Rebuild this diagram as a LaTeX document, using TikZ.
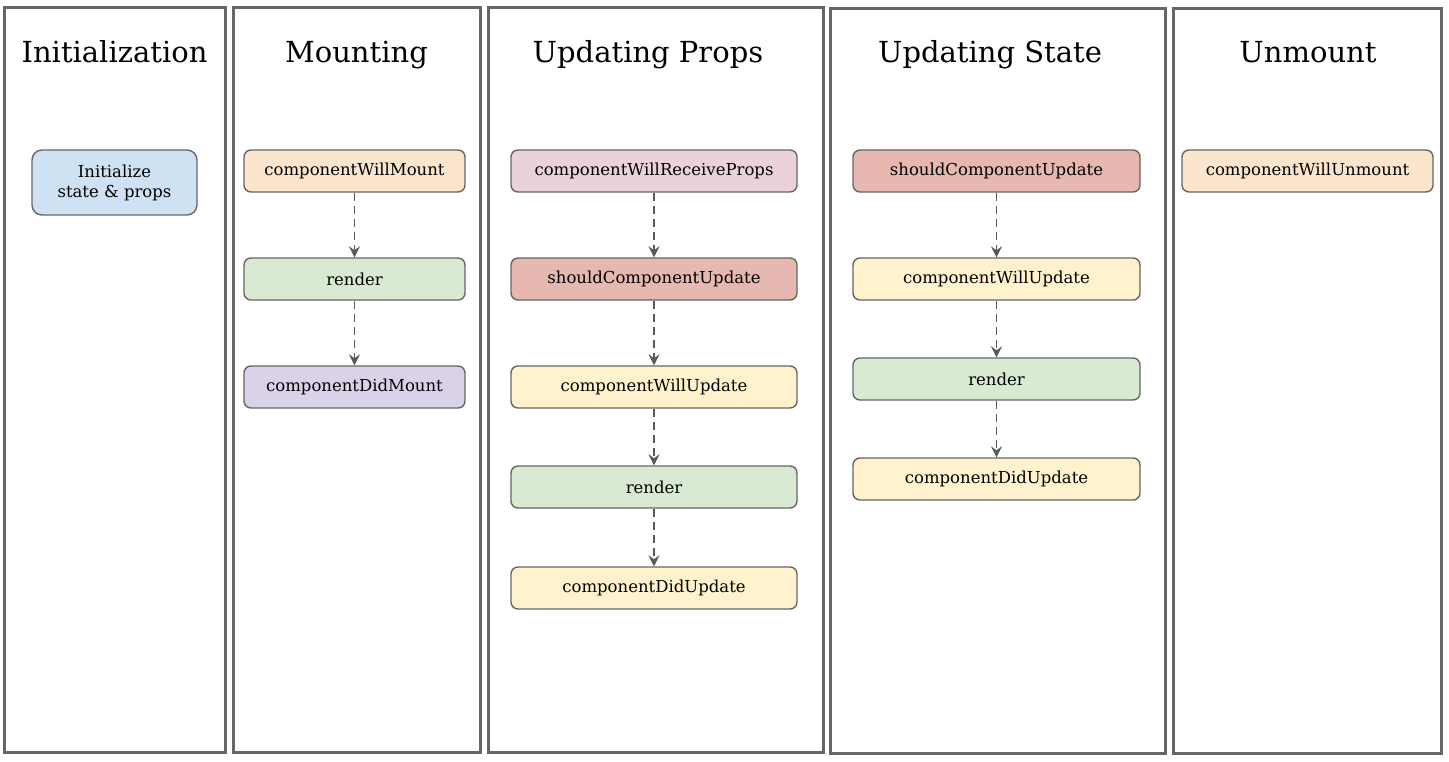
\documentclass[tikz,border=0pt]{standalone}
\usepackage{fontspec}
\setmainfont{DejaVu Serif}
\usetikzlibrary{arrows.meta,positioning}

\definecolor{framegray}{HTML}{666666}
\definecolor{linegray}{HTML}{595959}
\definecolor{cblue}{HTML}{CFE2F3}
\definecolor{cpeach}{HTML}{FCE5CD}
\definecolor{cgreen}{HTML}{D9EAD3}
\definecolor{cviolet}{HTML}{D9D2E9}
\definecolor{cpink}{HTML}{EAD1DC}
\definecolor{cred}{HTML}{E6B8AF}
\definecolor{cyellow}{HTML}{FFF2CC}

\tikzset{
  panel/.style={draw=framegray, line width=3pt},
  title/.style={font=\fontsize{29}{32}\selectfont, anchor=base},
  hook/.style={draw=framegray, line width=1.4pt, rounded corners=7pt, minimum height=42pt,
               font=\fontsize{16.5}{20}\selectfont, align=center, inner sep=0pt},
  flow/.style={draw=linegray, line width=1.5pt, dash pattern=on 8pt off 5pt,
               -{Stealth[length=11pt,width=11pt,inset=4pt]}}
}

\begin{document}
\begin{tikzpicture}[x=1pt, y=-1pt]
\useasboundingbox (0,0) rectangle (1449,762);

% Columns
\draw[panel] (4,8) rectangle (225,752);
\draw[panel] (233,8) rectangle (480,752);
\draw[panel] (488,8) rectangle (823,752);
\draw[panel] (830,9) rectangle (1165,753);
\draw[panel] (1173,9) rectangle (1441,753);

\node[title] (tInit) at (114.5,63) {Initialization};
\node[title] (tMount) at (356.5,63) {Mounting};
\node[title] (tProps) at (648,63) {Updating Props};
\node[title] (tState) at (990,63) {Updating State};
\node[title] (tUnmount) at (1308,63) {Unmount};

% Initialization
\node[hook, fill=cblue, minimum width=165pt, minimum height=65pt, rounded corners=10pt]
  (init) at (114.5,182.5) {Initialize\\state \& props};

% Mounting
\node[hook, fill=cpeach, minimum width=221pt] (mWill) at (354.5,171) {componentWillMount};
\node[hook, fill=cgreen, minimum width=221pt] (mRender) at (354.5,279) {render};
\node[hook, fill=cviolet, minimum width=221pt] (mDid) at (354.5,387) {componentDidMount};
\draw[flow] (mWill) -- (mRender);
\draw[flow] (mRender) -- (mDid);

% Updating Props
\node[hook, fill=cpink, minimum width=286pt] (pRecv) at (654,171) {componentWillReceiveProps};
\node[hook, fill=cred, minimum width=286pt] (pShould) at (654,279) {shouldComponentUpdate};
\node[hook, fill=cyellow, minimum width=286pt] (pWill) at (654,387) {componentWillUpdate};
\node[hook, fill=cgreen, minimum width=286pt] (pRender) at (654,487) {render};
\node[hook, fill=cyellow, minimum width=286pt] (pDid) at (654,588) {componentDidUpdate};
\draw[flow] (pRecv) -- (pShould);
\draw[flow] (pShould) -- (pWill);
\draw[flow] (pWill) -- (pRender);
\draw[flow] (pRender) -- (pDid);

% Updating State
\node[hook, fill=cred, minimum width=287pt] (sShould) at (996.5,171) {shouldComponentUpdate};
\node[hook, fill=cyellow, minimum width=287pt] (sWill) at (996.5,279) {componentWillUpdate};
\node[hook, fill=cgreen, minimum width=287pt] (sRender) at (996.5,379) {render};
\node[hook, fill=cyellow, minimum width=287pt] (sDid) at (996.5,479) {componentDidUpdate};
\draw[flow] (sShould) -- (sWill);
\draw[flow] (sWill) -- (sRender);
\draw[flow] (sRender) -- (sDid);

% Unmount
\node[hook, fill=cpeach, minimum width=251pt] (uWill) at (1307.5,171) {componentWillUnmount};
\end{tikzpicture}
\end{document}
